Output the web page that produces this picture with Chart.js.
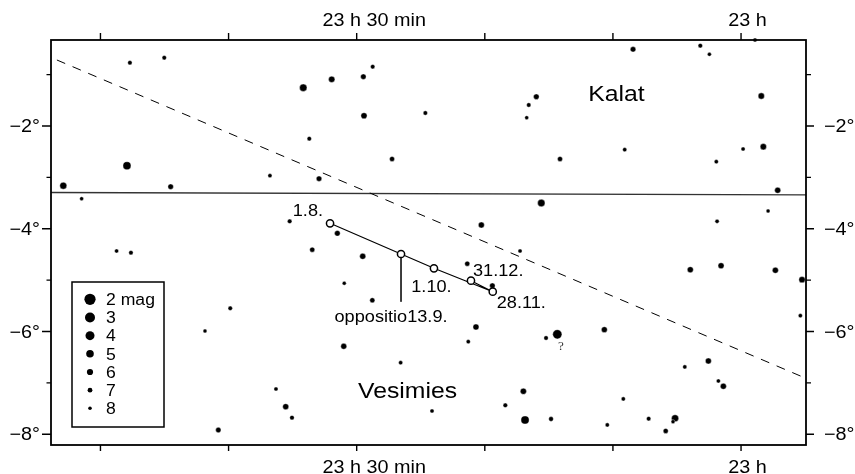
<!DOCTYPE html>
<html>
<head>
<meta charset="utf-8">
<title>Kalat / Vesimies</title>
<script src="https://cdn.jsdelivr.net/npm/chart.js@4.4.1/dist/chart.umd.min.js"></script>
<style>
  html, body { margin: 0; padding: 0; background: #fff; }
  canvas { display: block; }
</style>
</head>
<body>
<canvas id="chart" width="855" height="474"></canvas>
<script>
// Right ascension in minutes after 22 h, declination in degrees.
const starRa = [
  107.70, 105.02, 94.17, 91.95, 89.48, 88.75, 89.43, 84.64, 93.70, 107.93, 87.24, 96.77, 92.94, 112.90, 104.52, 111.47, 95.23, 91.51,
  58.91, 68.43, 63.18, 62.47, 58.42, 75.98, 76.57, 76.73, 74.13, 69.08, 59.84, 58.26, 61.93, 57.14, 75.59, 80.27, 61.87, 57.89,
  108.74, 107.62, 93.47, 89.53, 90.97, 88.78, 99.87, 101.84, 91.01, 86.57, 96.30, 95.54, 95.05, 100.80,
  77.25, 81.37, 79.41, 80.69, 81.29, 75.22, 74.34, 70.67, 63.96, 61.56, 57.32, 55.24, 55.37, 62.55, 64.39, 61.77, 61.38, 76.99, 78.40, 69.19, 84.12, 76.86, 74.83, 70.44, 67.21, 65.15, 65.31, 65.88
];
const starDec = [
  -0.768, -0.671, -1.255, -1.091, -1.040, -0.846, -1.800, -1.747, -2.247, -2.773, -2.642, -2.967, -3.026, -3.162, -3.181, -3.415, -3.855, -4.088,
  -0.326, -0.507, -0.437, -0.605, -1.416, -1.430, -1.591, -1.838, -2.642, -2.461, -2.448, -2.403, -2.695, -3.251, -3.499, -3.927, -3.855, -3.654,
  -4.433, -4.466, -4.407, -4.536, -5.061, -5.392, -5.548, -5.990, -6.288, -6.607, -7.119, -7.463, -7.677, -7.917,
  -4.433, -4.680, -5.108, -5.912, -6.198, -6.126, -6.054, -5.964, -4.797, -4.719, -4.808, -4.991, -5.692, -6.574, -6.690, -6.963, -7.066, -7.163, -7.436, -7.313, -7.547, -7.722, -7.703, -7.819, -7.697, -7.689, -7.755, -7.936
];
const starMag = [
  7.3, 7.3, 5.1, 5.9, 6.5, 7.3, 6.0, 7.3, 7.3, 4.7, 6.8, 7.5, 6.5, 5.4, 6.5, 7.7, 7.2, 6.4,
  7.5, 6.5, 7.2, 7.7, 5.9, 6.4, 7.3, 7.7, 6.8, 7.5, 7.5, 5.9, 7.5, 6.1, 5.1, 6.1, 7.5, 7.7,
  7.5, 7.3, 6.8, 6.1, 7.7, 6.8, 7.3, 7.7, 6.2, 7.5, 7.5, 6.1, 7.2, 6.6,
  7.5, 6.8, 6.5, 6.1, 7.5, 7.3, 3.8, 6.2, 6.1, 6.1, 6.1, 5.9, 7.5, 6.1, 7.5, 7.5, 6.1, 6.0, 7.2, 7.5, 7.5, 4.6, 7.0, 7.5, 7.3, 5.3, 7.7, 6.8
];

// Apparent path, in date order (turning point 28.11., then back to 31.12.)
const pathDates = ['1.8.', '13.9.', '1.10.', '28.11.', '31.12.'];
const pathRa = [92.08, 86.54, 83.97, 79.38, 81.08];
const pathDec = [-3.894, -4.491, -4.770, -5.225, -5.011];
const oppositionDate = '13.9.';
const oppositionText = 'oppositio13.9.';
const oppositionLeaderDec = -5.42;

// Ecliptic and the constellation boundary
const eclipticRa = [113.40, 54.93];
const eclipticDec = [-0.715, -6.912];
const boundaryRa = [113.86, 54.93];
const boundaryDec = [-3.294, -3.339];

const constellationNames = ['Kalat', 'Vesimies'];
const constellationRa = [69.72, 86.03];
const constellationDec = [-1.352, -7.138];

const queryStarRa = 74.34;
const queryText = '?';

// Axis ticks
const raTicks = [60, 70, 80, 90, 100, 110];
const raTickLabels = ['23 h', '', '', '23 h 30 min', '', ''];
const decTicks = [-1, -2, -3, -4, -5, -6, -7, -8];
const decTickLabels = ['', '−2°', '', '−4°', '', '−6°', '', '−8°'];

// Magnitude key
const legendMags = [2, 3, 4, 5, 6, 7, 8];
const legendLabels = ['2 mag', '3', '4', '5', '6', '7', '8'];

// Dot radius by magnitude
const magSteps = [2, 3, 4, 5, 6, 7, 8];
const magRadii = [5.6, 5.0, 4.5, 3.8, 3.1, 2.4, 1.8];
function radiusForMag(m) {
  if (m <= magSteps[0]) return magRadii[0];
  for (let i = 1; i < magSteps.length; i++) {
    if (m <= magSteps[i]) {
      const t = (m - magSteps[i - 1]) / (magSteps[i] - magSteps[i - 1]);
      return magRadii[i - 1] + t * (magRadii[i] - magRadii[i - 1]);
    }
  }
  return magRadii[magRadii.length - 1];
}

const SANS = '"Liberation Sans", Arial, Helvetica, sans-serif';
const SX = 1.1; // lettering is drawn slightly wide

function wideText(ctx, str, px, py, anchor, size, font) {
  ctx.save();
  ctx.font = size + 'px ' + (font || SANS);
  const w = ctx.measureText(str).width * SX;
  ctx.translate(px - anchor * w, py);
  ctx.scale(SX, 1);
  ctx.textAlign = 'left';
  ctx.textBaseline = 'alphabetic';
  ctx.fillText(str, 0, 0);
  ctx.restore();
}

const stars = starRa.map((ra, i) => ({ x: ra, y: starDec[i] }));
const path = pathRa.map((ra, i) => ({ x: ra, y: pathDec[i] }));
const oppIdx = pathDates.indexOf(oppositionDate);
const leader = [
  { x: pathRa[oppIdx], y: pathDec[oppIdx] },
  { x: pathRa[oppIdx], y: oppositionLeaderDec }
];
const ecliptic = eclipticRa.map((ra, i) => ({ x: ra, y: eclipticDec[i] }));
const boundary = boundaryRa.map((ra, i) => ({ x: ra, y: boundaryDec[i] }));

// Frame, ticks, lettering and the magnitude key
const chartDecor = {
  id: 'chartDecor',
  afterDraw(chart) {
    const { ctx, chartArea: a, scales: { x, y } } = chart;
    ctx.save();
    ctx.fillStyle = '#000';
    ctx.strokeStyle = '#000';

    // frame
    ctx.lineWidth = 1.8;
    ctx.strokeRect(a.left, a.top, a.right - a.left, a.bottom - a.top);

    // ticks
    ctx.lineWidth = 1.4;
    ctx.beginPath();
    raTicks.forEach(v => {
      const px = x.getPixelForValue(v);
      ctx.moveTo(px, a.top); ctx.lineTo(px, a.top - 7);
      ctx.moveTo(px, a.bottom); ctx.lineTo(px, a.bottom + 6);
    });
    decTicks.forEach((v, i) => {
      const py = y.getPixelForValue(v);
      const major = decTickLabels[i] !== '';
      ctx.moveTo(a.left, py); ctx.lineTo(a.left - (major ? 9 : 4.5), py);
      ctx.moveTo(a.right, py); ctx.lineTo(a.right + (major ? 8 : 5), py);
    });
    ctx.stroke();

    // tick labels
    raTicks.forEach((v, i) => {
      const t = raTickLabels[i];
      if (!t) return;
      const px = x.getPixelForValue(v);
      wideText(ctx, t, px, a.top - 14, 0.33, 18);
      wideText(ctx, t, px, a.bottom + 28, 0.33, 18);
    });
    decTicks.forEach((v, i) => {
      const t = decTickLabels[i];
      if (!t) return;
      const py = y.getPixelForValue(v) + 6;
      wideText(ctx, t, a.left - 11, py, 1, 18);
      wideText(ctx, t, a.right + 18, py, 0, 18);
    });

    // constellation names
    constellationNames.forEach((n, i) => {
      wideText(ctx, n, x.getPixelForValue(constellationRa[i]), y.getPixelForValue(constellationDec[i]) + 8, 0.5, 22.5);
    });

    // dates along the path
    const dateOffsets = {
      '1.8.':   [-7, -7.3, 1],
      '1.10.':  [-2.5, 23.7, 0.5],
      '31.12.': [2, -4.7, 0],
      '28.11.': [4, 15.9, 0]
    };
    pathDates.forEach((d, i) => {
      const o = dateOffsets[d];
      if (!o) return;
      wideText(ctx, d, x.getPixelForValue(pathRa[i]) + o[0], y.getPixelForValue(pathDec[i]) + o[1], o[2], 16.5);
    });
    wideText(ctx, oppositionText, x.getPixelForValue(pathRa[oppIdx]) - 10,
             y.getPixelForValue(oppositionLeaderDec) + 20.5, 0.5, 16.5);

    // query mark beside the bright star
    const qi = starRa.indexOf(queryStarRa);
    ctx.fillStyle = '#333';
    wideText(ctx, queryText, x.getPixelForValue(starRa[qi]) + 3.7, y.getPixelForValue(starDec[qi]) + 16, 0.5, 12,
             '"Liberation Serif", "Times New Roman", serif');
    ctx.fillStyle = '#000';

    // magnitude key
    const bx = 72, by = 282, bw = 92, bh = 145;
    ctx.lineWidth = 1.5;
    ctx.strokeRect(bx, by, bw, bh);
    legendMags.forEach((m, i) => {
      const cy = by + 17.3 + i * 18.17;
      ctx.beginPath();
      ctx.arc(bx + 18, cy, radiusForMag(m), 0, Math.PI * 2);
      ctx.fill();
      wideText(ctx, legendLabels[i], bx + 34, cy + 5.8, 0, 16);
    });

    ctx.restore();
  }
};

new Chart(document.getElementById('chart'), {
  type: 'scatter',
  data: {
    datasets: [
      {
        label: 'path',
        data: path,
        showLine: true,
        borderColor: '#000',
        borderWidth: 1.2,
        pointRadius: 3.6,
        pointBorderWidth: 1.5,
        pointBackgroundColor: '#fff',
        pointBorderColor: '#000',
        order: 0
      },
      {
        label: 'oppositio',
        data: leader,
        showLine: true,
        borderColor: '#222',
        borderWidth: 1,
        pointRadius: 0,
        order: 1
      },
      {
        label: 'stars',
        data: stars,
        pointRadius: ctx => radiusForMag(starMag[ctx.dataIndex]),
        pointHoverRadius: ctx => radiusForMag(starMag[ctx.dataIndex]),
        backgroundColor: '#000',
        borderColor: '#fff',
        borderWidth: 0.4,
        clip: false,
        order: 2
      },
      {
        label: 'ecliptic',
        data: ecliptic,
        showLine: true,
        borderColor: '#000',
        borderWidth: 1,
        borderDash: [9, 8],
        pointRadius: 0,
        order: 3
      },
      {
        label: 'boundary',
        data: boundary,
        showLine: true,
        borderColor: '#333',
        borderWidth: 1.3,
        pointRadius: 0,
        order: 4
      }
    ]
  },
  options: {
    responsive: false,
    devicePixelRatio: 1,
    animation: false,
    events: [],
    layout: { padding: { left: 51, right: 49, top: 40, bottom: 29 } },
    scales: {
      x: { type: 'linear', reverse: true, min: 54.93, max: 113.86, display: false },
      y: { type: 'linear', min: -8.209, max: -0.326, display: false }
    },
    plugins: {
      legend: { display: false },
      tooltip: { enabled: false }
    }
  },
  plugins: [chartDecor]
});
</script>
</body>
</html>
